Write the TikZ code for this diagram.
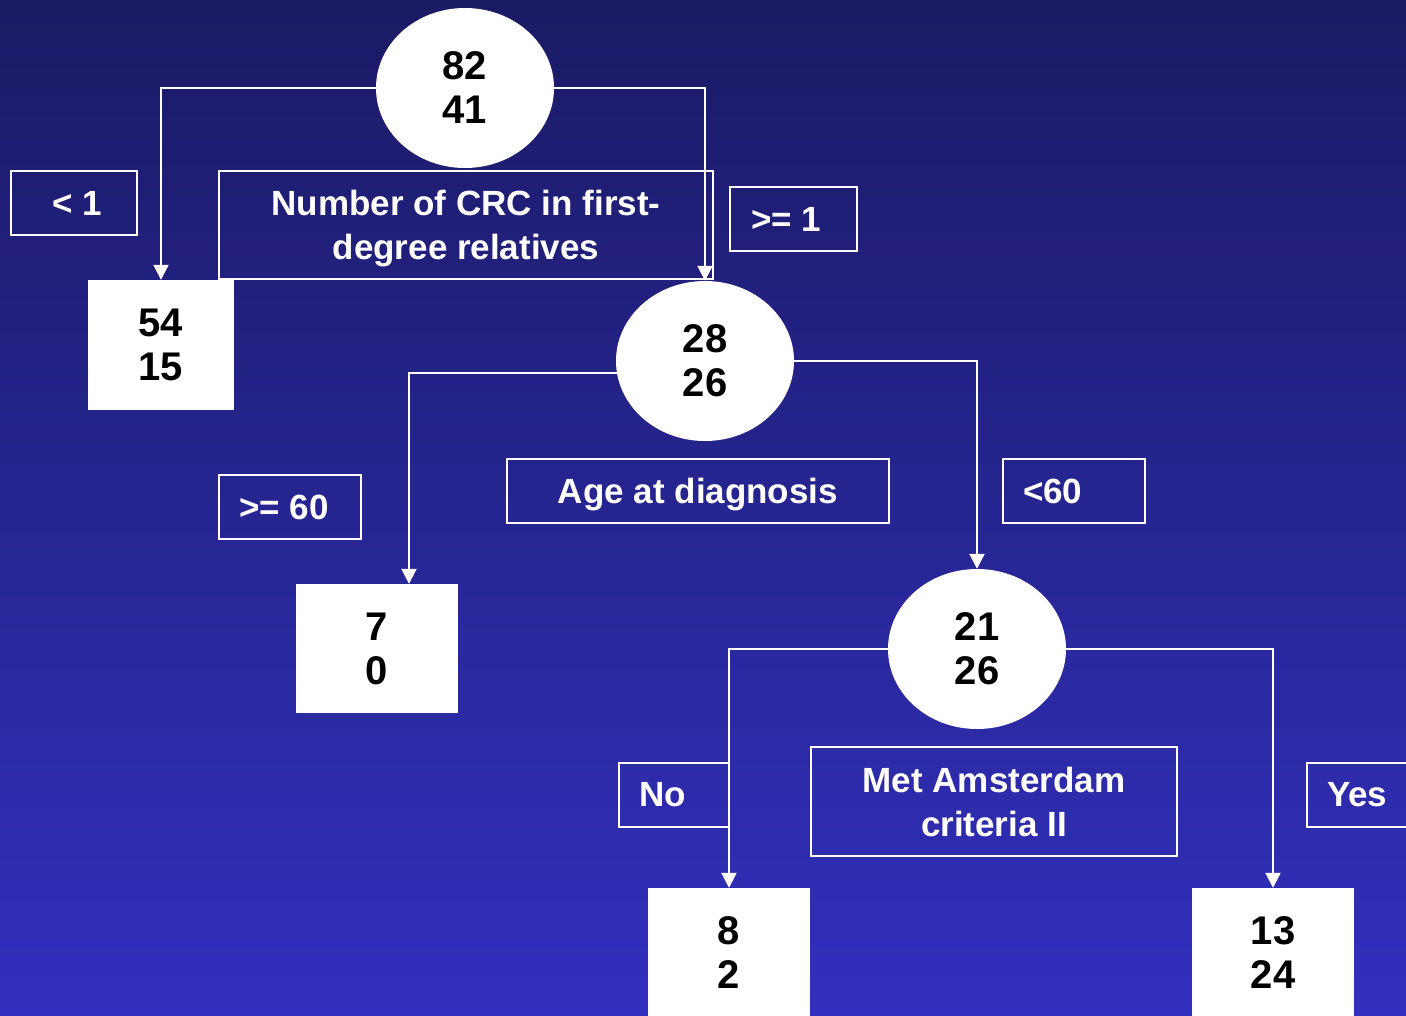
\documentclass[tikz,border=0pt]{standalone}
\usepackage{fontspec}
\setmainfont{Liberation Sans}
\usetikzlibrary{shapes.geometric,arrows.meta}
\definecolor{bgtop}{RGB}{27,26,100}
\definecolor{bgbot}{RGB}{50,48,190}
\newcommand{\lbltxt}[3]{\makebox[#1][l]{\hspace{#2}#3}}
\newcommand{\nodepth}[1]{\raisebox{0pt}[\height][0pt]{#1}}
\tikzset{
  numfont/.style={font=\bfseries\fontsize{40}{44}\selectfont, text=black, align=center},
  ellnode/.style={ellipse, fill=white, draw=none, minimum width=178pt, minimum height=160pt, inner sep=0pt, numfont},
  boxnode/.style={rectangle, fill=white, draw=none, inner sep=0pt, numfont},
  labbox/.style={rectangle, draw=white, line width=2pt, inner sep=0pt, anchor=north west,
     font=\bfseries\fontsize{35}{44}\selectfont, text=white, align=center},
  conn/.style={draw=white, line width=2pt, -{Triangle[width=15pt,length=15pt]}}
}
\begin{document}
\begin{tikzpicture}[x=1pt,y=-1pt]
\useasboundingbox (0,0) rectangle (1406,1015);
\begin{scope}
\clip (0,0) rectangle (1406,1015);
\shade[top color=bgtop, bottom color=bgbot] (0,0) rectangle (1406,1015);

% tree nodes
\node[ellnode] (n1) at (465,88) {82\\41};
\node[boxnode, minimum width=146pt, minimum height=130pt] (b1) at (161,345) {54\\15};
\node[ellnode] (n2) at (705,361) {28\\26};
\node[boxnode, minimum width=162pt, minimum height=129pt] (b2) at (377,648.5) {7\\0};
\node[ellnode] (n3) at (977,649) {21\\26};
\node[boxnode, minimum width=162pt, minimum height=130pt] (b3) at (729,953) {8\\2};
\node[boxnode, minimum width=162pt, minimum height=130pt] (b4) at (1273,953) {13\\24};

% connectors
\draw[conn] (n1.west) -| (b1.north);
\draw[conn] (n1.east) -| (n2.north);
\draw[conn] (n2.188) -| ([xshift=32pt]b2.north);
\draw[conn] (n2.east) -| (n3.north);
\draw[conn] (n3.west) -| (b3.north);
\draw[conn] (n3.east) -| (b4.north);

% label boxes
\node[labbox, minimum width=126pt, minimum height=64pt] (l1) at (10,170) {\lbltxt{126pt}{41pt}{< 1}};
\node[labbox, minimum width=494pt, minimum height=108pt] (q1) at (218,170) {Number of CRC in first-\\\nodepth{degree relatives}};
\node[labbox, minimum width=127pt, minimum height=64pt] (r1) at (729,186) {\lbltxt{127pt}{21pt}{>= 1}};
\node[labbox, minimum width=142pt, minimum height=64pt] (l2) at (218,474) {\lbltxt{142pt}{20pt}{>= 60}};
\node[labbox, minimum width=382pt, minimum height=64pt] (q2) at (506,458) {\nodepth{Age at diagnosis}};
\node[labbox, minimum width=142pt, minimum height=64pt] (r2) at (1002,458) {\lbltxt{142pt}{20pt}{<60}};
\node[labbox, minimum width=110pt, minimum height=64pt] (l3) at (618,762) {\lbltxt{110pt}{20pt}{No}};
\node[labbox, minimum width=366pt, minimum height=109pt] (q3) at (810,746) {Met Amsterdam\\criteria II};
\node[labbox, minimum width=130pt, minimum height=64pt] (r3) at (1306,762) {\lbltxt{130pt}{20pt}{Yes}};
\end{scope}
\end{tikzpicture}
\end{document}
